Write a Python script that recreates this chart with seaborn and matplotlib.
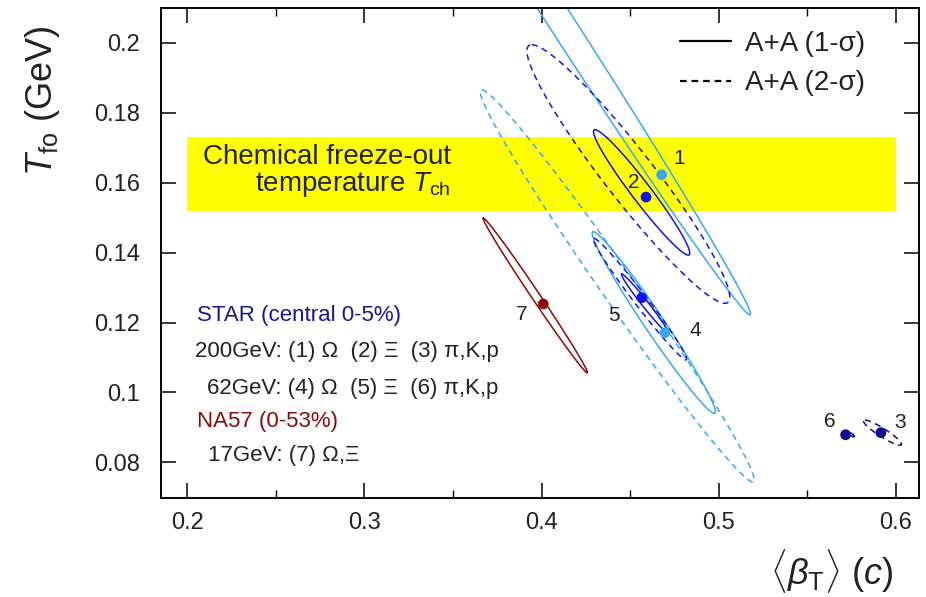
import numpy as np
import pandas as pd
import matplotlib
matplotlib.use("Agg")
import matplotlib.pyplot as plt
from matplotlib.lines import Line2D
import seaborn as sns

# Blast-wave fit results: <beta_T> and T_fo for each particle set
point_id = ["1", "2", "3", "4", "5", "6", "7"]
beta_t = [0.4678, 0.4590, 0.5915, 0.4697, 0.4565, 0.5716, 0.4010]
t_fo = [0.1623, 0.1559, 0.0885, 0.1171, 0.1271, 0.0879, 0.1253]
point_group = ["cyan", "blue", "navy", "cyan", "blue", "navy", "red"]
# label offsets (points) relative to each fitted value
label_dx = [12.7, -9.1, 13.7, 21.6, -20.0, -11.3, -15.6]
label_dy = [12.0, 10.5, 7.6, 1.9, -12.5, 9.4, -7.9]

# chi^2 contours: upper tip, lower tip, half width in <beta_T>
contour_group = ["cyan", "blue", "blue", "cyan", "cyan", "blue", "blue", "red", "navy", "navy"]
contour_sigma = [1, 2, 1, 2, 1, 2, 1, 1, 2, 1]
contour_top_beta = [0.2935, 0.3945, 0.4302, 0.3663, 0.4292, 0.4296, 0.4453, 0.3672, 0.5825, 0.5740]
contour_top_t = [0.2984, 0.1995, 0.1752, 0.1866, 0.1460, 0.1441, 0.1339, 0.1499, 0.0921, 0.0884]
contour_bot_beta = [0.5176, 0.5035, 0.4828, 0.5192, 0.4975, 0.4815, 0.4715, 0.4258, 0.6023, 0.5762]
contour_bot_t = [0.1222, 0.1255, 0.1393, 0.0744, 0.0940, 0.1093, 0.1169, 0.1056, 0.0849, 0.0873]
contour_halfwidth = [0.0085, 0.0175, 0.0068, 0.0113, 0.0066, 0.0045, 0.0023, 0.0028, 0.0042, 0.0010]

# chemical freeze-out band
tch_beta = [0.2, 0.6]
tch_low, tch_high = 0.152, 0.173

colors = {"cyan": "#36a9ee", "blue": "#1414e6", "navy": "#0d0d8f", "red": "#8a0a0a"}

sns.set_theme(style="ticks")
plt.rcParams["font.family"] = ["Liberation Sans", "DejaVu Sans"]
plt.rcParams["mathtext.fontset"] = "custom"
plt.rcParams["mathtext.rm"] = "Liberation Sans"
plt.rcParams["mathtext.it"] = "Liberation Sans:italic"
plt.rcParams["mathtext.bf"] = "Liberation Sans:bold"
text_color = "#222222"

fig = plt.figure(figsize=(9.26, 5.97), dpi=100)
ax = fig.add_axes([161 / 926, 1 - 498 / 597, (919 - 161) / 926, (498 - 8) / 597])

ax.fill_between(tch_beta, [tch_low] * 2, [tch_high] * 2, color="#ffff00", lw=0, zorder=0)

t = np.linspace(0, 2 * np.pi, 241)
for i in range(len(contour_group)):
    cb = 0.5 * (contour_top_beta[i] + contour_bot_beta[i])
    ct = 0.5 * (contour_top_t[i] + contour_bot_t[i])
    ub = 0.5 * (contour_top_beta[i] - contour_bot_beta[i])
    ut = 0.5 * (contour_top_t[i] - contour_bot_t[i])
    xs = cb + ub * np.cos(t) + contour_halfwidth[i] * np.sin(t)
    ys = ct + ut * np.cos(t)
    ls = "-" if contour_sigma[i] == 1 else (0, (4.0, 3.0))
    sns.lineplot(x=xs, y=ys, sort=False, estimator=None, ax=ax,
                 color=colors[contour_group[i]], lw=1.1, linestyle=ls, zorder=2)

df = pd.DataFrame({"beta": beta_t, "t": t_fo, "group": point_group})
sns.scatterplot(data=df, x="beta", y="t", hue="group", palette=colors, s=60,
                edgecolor="none", legend=False, ax=ax, zorder=3)

for i, lab in enumerate(point_id):
    ax.annotate(lab, (beta_t[i], t_fo[i]), xytext=(label_dx[i], label_dy[i]),
                textcoords="offset points", ha="center", va="center",
                fontsize=15, color=text_color, zorder=4)

ax.text(0.3489, 0.1675, "Chemical freeze-out", ha="right", va="center",
        fontsize=20, color=text_color)
ax.text(0.3489, 0.1594, r"temperature $T_{\rm ch}$", ha="right", va="center",
        fontsize=20, color=text_color)

ax.text(0.2055, 0.1219, "STAR (central 0-5%)", ha="left", va="center", fontsize=16, color="#17178c")
ax.text(0.2045, 0.1116, "200GeV: (1) \u03a9  (2) \u039e  (3) \u03c0,K,p", ha="left", va="center",
        fontsize=16, color=text_color)
ax.text(0.2115, 0.1011, "62GeV: (4) \u03a9  (5) \u039e  (6) \u03c0,K,p", ha="left", va="center",
        fontsize=16, color=text_color)
ax.text(0.2055, 0.0916, "NA57 (0-53%)", ha="left", va="center", fontsize=16, color="#8a0a0a")
ax.text(0.2120, 0.0820, "17GeV: (7) \u03a9,\u039e", ha="left", va="center", fontsize=16, color=text_color)

handles = [Line2D([], [], color="black", lw=1.6, linestyle="-"),
           Line2D([], [], color="black", lw=1.6, linestyle=(0, (3.0, 2.2)))]
leg = ax.legend(handles, ["A+A (1-\u03c3)", "A+A (2-\u03c3)"], loc="upper right",
                bbox_to_anchor=(0.962, 1.005), frameon=False, fontsize=20,
                handlelength=1.85, handletextpad=0.5, labelspacing=0.5)
for txt in leg.get_texts():
    txt.set_color(text_color)

ax.set_xlim(0.1853, 0.6130)
ax.set_ylim(0.0698, 0.2100)
ax.set_xticks([0.2, 0.3, 0.4, 0.5, 0.6])
ax.set_xticklabels(["0.2", "0.3", "0.4", "0.5", "0.6"])
ax.set_xticks([0.25, 0.35, 0.45, 0.55], minor=True)
ax.set_yticks([0.08, 0.1, 0.12, 0.14, 0.16, 0.18, 0.2])
ax.set_yticklabels(["0.08", "0.1", "0.12", "0.14", "0.16", "0.18", "0.2"])
ax.tick_params(which="both", direction="in", top=True, right=True, colors="black",
               labelcolor=text_color, labelsize=17)
ax.tick_params(which="major", length=11, width=1.1)
ax.tick_params(which="minor", length=5.5, width=1.0)
ax.tick_params(axis="y", pad=15)
ax.tick_params(axis="x", pad=10)
for sp in ax.spines.values():
    sp.set_linewidth(1.4)
    sp.set_color("black")
    sp.set_visible(True)

ax.set_xlabel(r"$\langle\beta_{\rm T}\rangle$ ($c$)", fontsize=26, color=text_color, ha="right")
ax.xaxis.set_label_coords((893 - 161) / 758, -0.1)
ax.set_ylabel(r"$T_{\rm fo}$ (GeV)", fontsize=26, color=text_color)
ax.yaxis.set_label_coords(-0.13, 0.81)

fig.savefig("out.png", dpi=100)
